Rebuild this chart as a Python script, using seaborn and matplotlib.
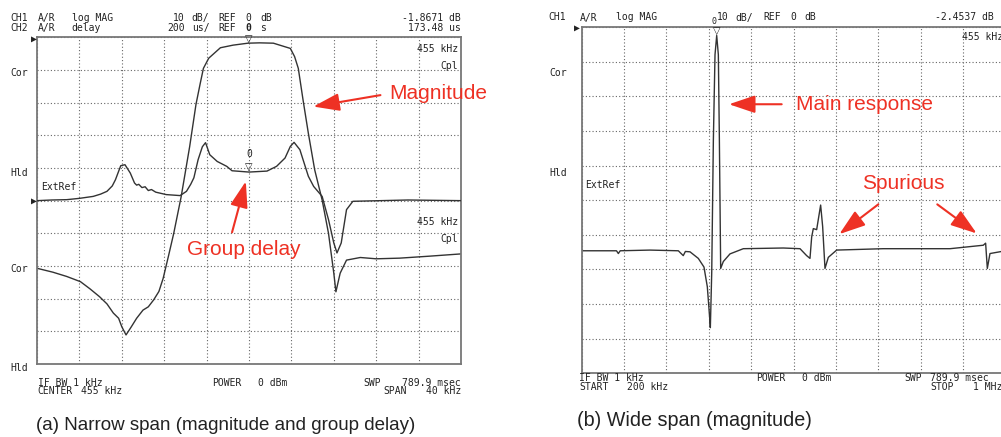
import matplotlib
matplotlib.use("Agg")
import numpy as np
import matplotlib.pyplot as plt
import seaborn as sns

# (a) narrow span: 435-475 kHz, magnitude in dB
narrow_khz = [435.0, 436.5, 437.8, 439.1, 440.0, 440.9, 441.6, 442.2, 442.7, 443.0,
              443.4, 443.9, 444.4, 445.0, 445.5, 446.0, 446.5, 446.9, 447.4, 447.9,
              448.6, 449.4, 450.0, 450.4, 450.7, 451.2, 452.3, 453.5, 454.9, 456.0,
              457.3, 458.2, 458.9, 459.3, 459.65, 460.1, 460.6, 461.2, 461.9, 462.5,
              463.0, 463.2, 463.6, 464.2, 465.5, 467.0, 469.2, 472.0, 475.0]
narrow_mag_db = [-70.7, -71.9, -73.2, -74.8, -77.0, -79.4, -81.6, -84.4, -86.0, -88.6,
                 -91.1, -88.6, -86.0, -83.5, -82.5, -80.4, -77.8, -73.8, -67.0, -60.0,
                 -48.8, -33.5, -20.5, -14.1, -9.5, -6.4, -3.2, -2.4, -1.8, -1.7,
                 -1.8, -2.7, -3.4, -5.9, -9.5, -19.2, -29.4, -40.6, -49.8, -60.0,
                 -72.2, -77.9, -72.2, -68.2, -67.4, -67.8, -67.6, -67.0, -66.3]

# (a) narrow span: group delay in microseconds
delay_khz = [435.0, 436.4, 437.8, 439.0, 440.3, 441.0, 441.6, 442.1, 442.4, 442.9,
             443.3, 443.8, 444.2, 444.4, 444.6, 444.9, 445.2, 445.5, 445.8, 446.2,
             447.2, 448.5, 449.1, 449.5, 449.8, 450.2, 450.6, 450.9, 451.3, 452.0,
             452.9, 453.4, 455.0, 456.7, 457.6, 458.4, 458.9, 459.25, 459.8, 460.3,
             460.6, 461.1, 461.9, 462.5, 463.0, 463.3, 463.7, 464.2, 464.8, 470.0,
             475.0]
delay_us = [0, 4, 6, 14, 26, 40, 57, 90, 128, 214,
            220, 169, 108, 95, 100, 80, 85, 62, 68, 52,
            37, 31, 57, 100, 140, 251, 330, 355, 281, 240,
            210, 183, 175, 181, 210, 261, 332, 357, 312, 210,
            149, 87, 26, -116, -259, -320, -259, -55, -4, 4,
            0]

# (b) wide span: 200 kHz - 1 MHz, magnitude in dB
wide_khz = [200, 266, 269.5, 273, 329, 382.7, 392, 396, 404.7, 420.4,
            431.1, 437.4, 441.2, 443.1, 445.7, 448.8, 451.9, 455.1, 458.2, 460.1,
            462.6, 467.6, 480.2, 505.3, 580.8, 612.3, 624.8, 631.1, 634.3, 637.4,
            643.7, 651.2, 655, 659.4, 665.7, 681.4, 769.4, 895.3, 958.1, 962.5,
            965.7, 970.7, 1000]
wide_mag_db = [-64.6, -64.6, -65.4, -64.6, -64.4, -64.6, -66.0, -64.8, -64.9, -66.8,
               -69.3, -75.0, -82.7, -86.8, -71.0, -32.7, -8.0, -2.45, -8.0, -32.0,
               -69.7, -67.7, -65.5, -64.0, -63.8, -64.0, -66.0, -66.8, -60.6, -58.2,
               -58.5, -51.4, -57.6, -69.7, -66.5, -64.4, -64.0, -64.0, -63.0, -62.4,
               -69.7, -65.4, -64.6]

marker_khz = 455.0
marker_a_db = -1.8671
marker_a_us = 173.48
marker_b_db = -2.4537

# ----------- figure -----------

W, H = 1001, 437
RED = "#ee3124"
TRACE = "#333333"
INK = "#222222"

sns.set_theme(style="white")
plt.rcParams["font.family"] = ["DejaVu Sans"]

fig = plt.figure(figsize=(W / 100, H / 100), dpi=100)


def box(x0, y0, x1, y1):
    return [x0 / W, 1 - y1 / H, (x1 - x0) / W, (y1 - y0) / H]


def screen(ax, xlim, ylim):
    ax.set_xlim(*xlim)
    ax.set_ylim(*ylim)
    ax.set_xticks(np.linspace(xlim[0], xlim[1], 11))
    ax.set_yticks(np.linspace(ylim[0], ylim[1], 11))
    ax.set_xticklabels([])
    ax.set_yticklabels([])
    ax.tick_params(length=0)
    ax.grid(True, color="#666666", linestyle=(0, (1, 2)), linewidth=0.8)
    for s in ax.spines.values():
        s.set_color("#777777")
        s.set_linewidth(1.3)
    ax.set_xlabel("")
    ax.set_ylabel("")


def mono(x, y, s, ha="left", size=7, **kw):
    fig.text(x / W, 1 - y / H, s, ha=ha, va="center", family="DejaVu Sans Mono",
             fontsize=size, color=INK, **kw)


def red_arrow(ax, tail, tip):
    ax.annotate("", xy=tip, xytext=tail,
                arrowprops=dict(arrowstyle="-|>,head_length=0.8,head_width=0.27",
                                color=RED, lw=1.5, shrinkA=0, shrinkB=0,
                                mutation_scale=20))


# (a) narrow span
ax_a = fig.add_axes(box(37, 37.3, 461, 364))
screen(ax_a, (435, 475), (-100, 0))
sns.lineplot(x=narrow_khz, y=narrow_mag_db, ax=ax_a, color=TRACE, linewidth=1.0)
ax_a.set_xlabel("")
ax_a.set_ylabel("")

ax_d = ax_a.twinx()
ax_d.set_ylim(-1000, 1000)
sns.lineplot(x=delay_khz, y=delay_us, ax=ax_d, color=TRACE, linewidth=1.0)
ax_d.set_yticks([])
ax_d.set_ylabel("")
for s in ax_d.spines.values():
    s.set_visible(False)

ax_a.text(marker_khz, marker_a_db, "\u25BD", ha="center", va="bottom", fontsize=7, color=INK)
ax_d.text(marker_khz, marker_a_us, "\u25BD", ha="center", va="bottom", fontsize=7, color=INK)
ax_d.text(marker_khz, marker_a_us + 80, "0", ha="center", va="bottom",
          family="DejaVu Sans Mono", fontsize=7, color=INK)

ax_a.text(468.2, -17.3, "Magnitude", ha="left", va="center", color=RED,
          fontsize=15, family=["Liberation Sans", "DejaVu Sans"])
red_arrow(ax_a, (467.4, -17.7), (461.07, -21.2))
ax_d.text(454.5, -300, "Group delay", ha="center", va="center", color=RED,
          fontsize=15, family=["Liberation Sans", "DejaVu Sans"])
red_arrow(ax_d, (453.4, -194), (454.7, 118))

# (b) wide span
ax_b = fig.add_axes(box(581.5, 27, 1005.5, 373.4))
screen(ax_b, (200, 1000), (-100, 0))
sns.lineplot(x=wide_khz, y=wide_mag_db, ax=ax_b, color=TRACE, linewidth=1.0)
ax_b.set_xlabel("")
ax_b.set_ylabel("")
ax_b.text(marker_khz, marker_b_db, "\u25BD", ha="center", va="bottom", fontsize=7,
          color=INK, clip_on=False)

ax_b.text(604.7, -22.3, "Main response", ha="left", va="center", color=RED,
          fontsize=15, family=["Liberation Sans", "DejaVu Sans"])
red_arrow(ax_b, (577.7, -22.3), (478.3, -22.3))
ax_b.text(807.5, -45.2, "Spurious", ha="center", va="center", color=RED,
          fontsize=15, family=["Liberation Sans", "DejaVu Sans"])
red_arrow(ax_b, (760, -51.2), (686.4, -59.8))
red_arrow(ax_b, (871.3, -51.2), (945.7, -59.6))

# ----------- instrument annotations (a) -----------
for y, a, b, c in [(18, "CH1", "A/R", "log MAG"), (28.3, "CH2", "A/R", "delay")]:
    mono(10, y, a)
    mono(37.7, y, b)
    mono(71.7, y, c)
mono(185, 18, "10", ha="right")
mono(191.7, 18, "dB/")
mono(218.3, 18, "REF")
mono(245, 18, "0")
mono(260, 18, "dB")
mono(185, 28.3, "200", ha="right")
mono(191.7, 28.3, "us/")
mono(218.3, 28.3, "REF")
mono(245, 28.3, "0", weight="bold")
mono(260, 28.3, "s")
mono(461, 18, "-1.8671 dB", ha="right")
mono(461, 28.3, "173.48 us", ha="right")

for y, s in [(72.7, "Cor"), (172.7, "Hld"), (269.3, "Cor"), (368.3, "Hld")]:
    mono(10, y, s)
mono(41, 186.7, "ExtRef")
mono(458, 49, "455 kHz", ha="right")
mono(458, 66, "Cpl", ha="right")
mono(458, 221.7, "455 kHz", ha="right")
mono(458, 239.3, "Cpl", ha="right")
mono(33.5, 38.5, "\u25B6", ha="center")
mono(33.5, 201, "\u25B6", ha="center")

mono(37.7, 382.5, "IF BW 1 kHz")
mono(37.7, 391.5, "CENTER")
mono(81, 391.5, "455 kHz")
mono(212, 382.5, "POWER")
mono(257.7, 382.5, "0 dBm")
mono(363.3, 382.5, "SWP")
mono(461, 382.5, "789.9 msec", ha="right")
mono(383.3, 391.5, "SPAN")
mono(461, 391.5, "40 kHz", ha="right")

# ----------- instrument annotations (b) -----------
mono(548, 17.5, "CH1")
mono(580, 17.5, "A/R")
mono(615.7, 17.5, "log MAG")
mono(729, 17.5, "10", ha="right")
mono(711, 22, "0", size=6)
mono(735, 17.5, "dB/")
mono(763.3, 17.5, "REF")
mono(790, 17.5, "0")
mono(804.3, 17.5, "dB")
mono(935, 17.5, "-2.4537 dB")
mono(961.7, 37.3, "455 kHz")
mono(549, 72.7, "Cor")
mono(549, 172.7, "Hld")
mono(585, 185, "ExtRef")
mono(577, 27.5, "\u25B6", ha="center")

mono(579.3, 378, "IF BW 1 kHz")
mono(579.3, 387, "START")
mono(626.7, 387, "200 kHz")
mono(756, 378, "POWER")
mono(802.3, 378, "0 dBm")
mono(904.3, 378, "SWP")
mono(930, 378, "789.9 msec")
mono(930, 387, "STOP")
mono(973.3, 387, "1 MHz")

# ----------- captions -----------
cap_font = ["Liberation Sans", "DejaVu Sans"]
fig.text(36 / W, 1 - 425 / H, "(a) Narrow span (magnitude and group delay)",
         ha="left", va="center", fontsize=13.5, family=cap_font, color="#222222")
fig.text(577 / W, 1 - 421 / H, "(b) Wide span (magnitude)",
         ha="left", va="center", fontsize=14.2, family=cap_font, color="#222222")

fig.savefig("out.png", dpi=100)
